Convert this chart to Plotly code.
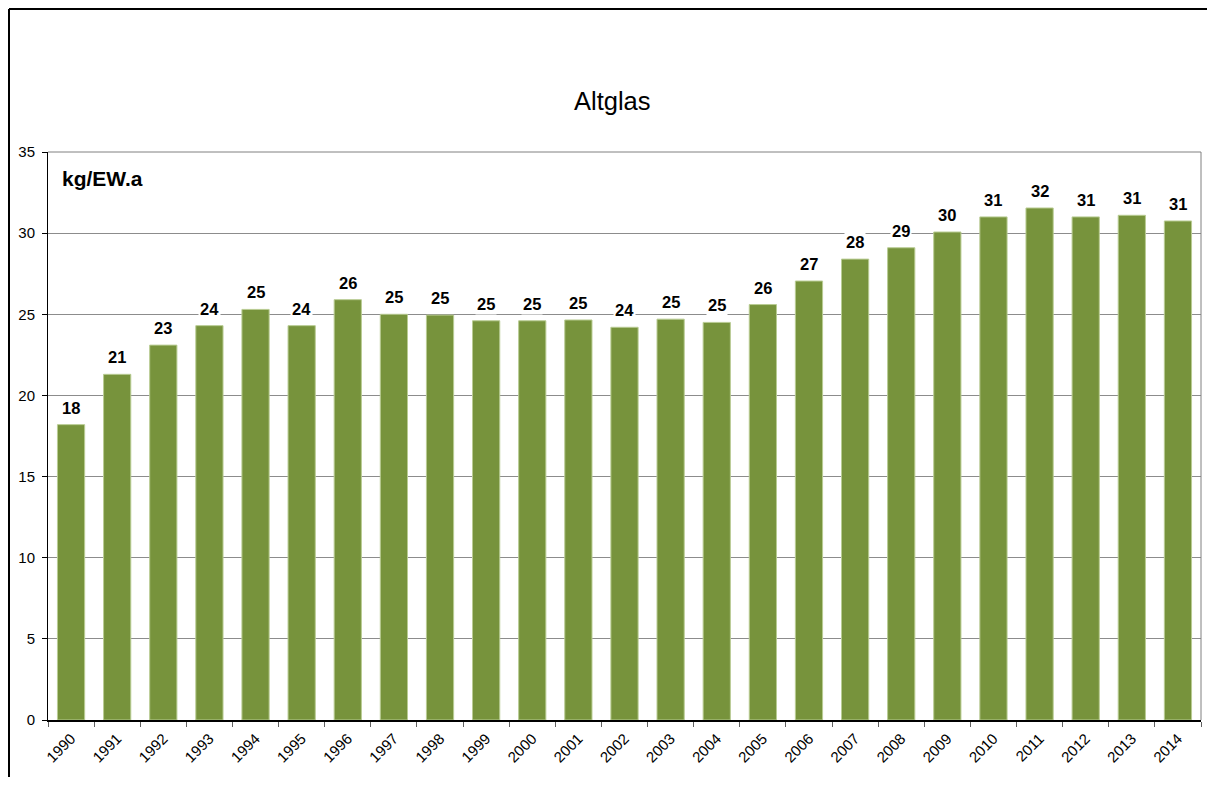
import plotly.graph_objects as go

years = [str(y) for y in range(1990, 2015)]
values = [18.2, 21.3, 23.1, 24.3, 25.3, 24.3, 25.9, 25.0, 24.95, 24.6,
          24.6, 24.65, 24.2, 24.7, 24.5, 25.6, 27.05, 28.4, 29.1, 30.07,
          31.0, 31.55, 31.0, 31.1, 30.75]
labels = [str(int(v + 0.5)) for v in values]

title_text = "Altglas"
unit_text = "kg/EW.a"
y_ticks = [0, 5, 10, 15, 20, 25, 30, 35]

FONT = "Liberation Sans, Arial, sans-serif"

OFF = 8  # page body margin
W, H = 1215 - 2 * OFF, 785 - 2 * OFF
# plot area in page pixels
L, R, T, B = 48 - OFF, 1201 - OFF, 152 - OFF, 720 - OFF

def px_x(px):
    return (px - OFF - L) / (R - L)

def px_y(py):
    return (B - (py - OFF)) / (B - T)

fig = go.Figure()
fig.add_trace(go.Bar(
    x=years, y=values,
    marker=dict(color="#77933C", line=dict(color="#B9CC93", width=1)),
    hoverinfo="x+y",
))

# value labels with white background
for i, (v, lab) in enumerate(zip(values, labels)):
    fig.add_annotation(
        x=i, y=v, xref="x", yref="y", text=f"<b>{lab}</b>",
        showarrow=False, yanchor="middle", yshift=17,
        bgcolor="white", borderpad=1,
        font=dict(family=FONT, size=16.5, color="black"),
    )

# title
fig.add_annotation(
    x=px_x(612), y=px_y(101), xref="paper", yref="paper",
    text=title_text, showarrow=False, xanchor="center", yanchor="middle",
    font=dict(family=FONT, size=25.5, color="black"),
)
# unit label
fig.add_annotation(
    x=px_x(60), y=px_y(178), xref="paper", yref="paper",
    text=f"<b>{unit_text}</b>", showarrow=False, xanchor="left", yanchor="middle",
    font=dict(family=FONT, size=21, color="black"),
)

# plot area grey border (top, right)
fig.add_shape(type="line", xref="paper", yref="paper", x0=0, x1=1, y0=1, y1=1,
              line=dict(color="#808080", width=1))
fig.add_shape(type="line", xref="paper", yref="paper", x0=1, x1=1, y0=0, y1=1,
              line=dict(color="#808080", width=1))
# outer black frame (top and left)
fig.add_shape(type="line", xref="paper", yref="paper", x0=px_x(9), x1=px_x(1230),
              y0=px_y(9), y1=px_y(9), line=dict(color="black", width=2))
fig.add_shape(type="line", xref="paper", yref="paper", x0=px_x(9), x1=px_x(9),
              y0=px_y(9), y1=px_y(800), line=dict(color="black", width=2))

fig.update_layout(
    width=W, height=H,
    margin=dict(l=L, r=W - R, t=T, b=H - B, pad=0),
    paper_bgcolor="white", plot_bgcolor="white",
    showlegend=False, bargap=0.41,
    font=dict(family=FONT, color="black"),
)
fig.update_yaxes(
    range=[0, 35], tickvals=y_ticks, showgrid=True, gridcolor="#8C8C8C", gridwidth=1,
    showline=True, linecolor="black", linewidth=1, ticks="outside", ticklen=5,
    tickcolor="black", tickfont=dict(family=FONT, size=15, color="black"),
    ticklabelstandoff=4, zeroline=False, fixedrange=True,
)
fig.update_xaxes(
    type="category", range=[-0.5, len(years) - 0.5],
    showgrid=False, showline=True, linecolor="black", linewidth=2,
    ticks="outside", ticklen=5, tickcolor="#606060", tickson="boundaries",
    tickangle=-45, tickfont=dict(family=FONT, size=15, color="black"),
    ticklabelstandoff=2, fixedrange=True,
)

fig.write_html("out.html")
